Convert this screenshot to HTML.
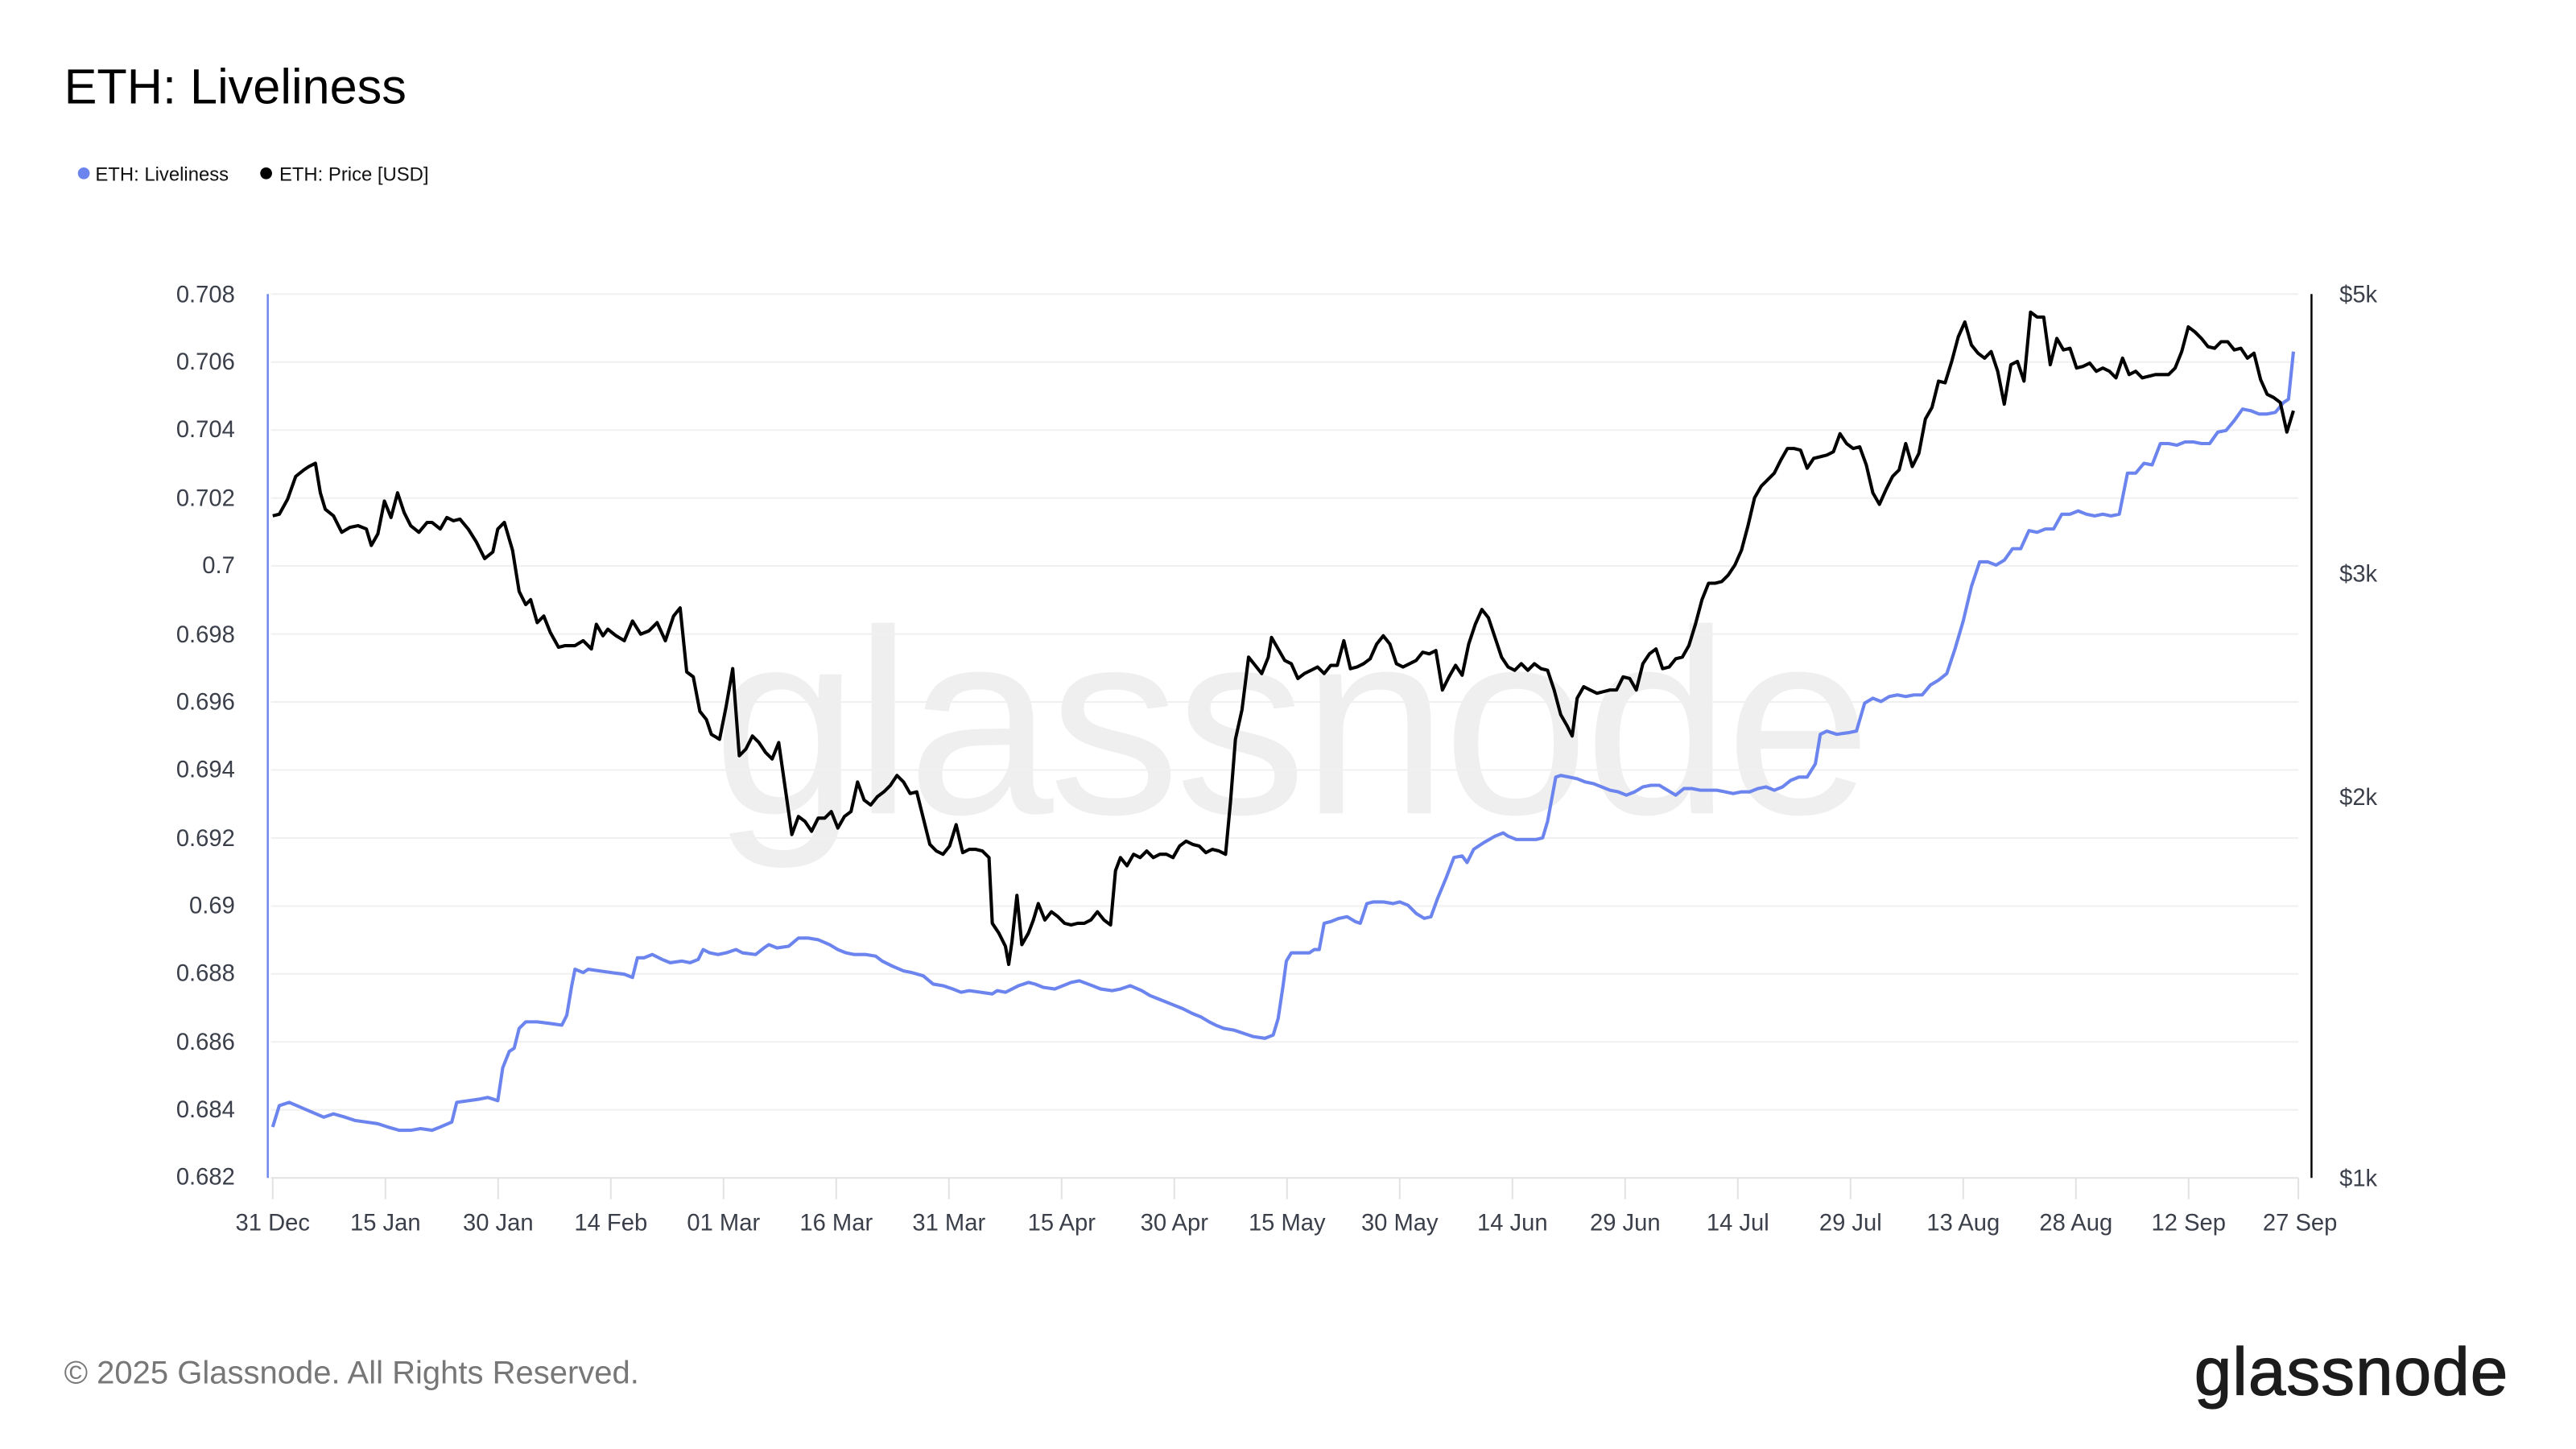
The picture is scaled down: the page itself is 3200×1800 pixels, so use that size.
<!DOCTYPE html>
<html><head><meta charset="utf-8"><style>
html,body{margin:0;padding:0;background:#fff;width:3200px;height:1800px;overflow:hidden}
svg{display:block}
text{font-family:"Liberation Sans",sans-serif}
</style></head><body>
<svg width="3200" height="1800" viewBox="0 0 1568 882" xmlns="http://www.w3.org/2000/svg">
<rect width="1568" height="882" fill="#fff"/>
<text x="39" y="63" font-size="30" fill="#000">ETH: Liveliness</text>
<circle cx="51" cy="105.5" r="3.6" fill="#6b84ee"/>
<text x="58" y="110" font-size="11.7" fill="#111">ETH: Liveliness</text>
<circle cx="162" cy="105.5" r="3.6" fill="#000"/>
<text x="170" y="110" font-size="11.7" fill="#111">ETH: Price [USD]</text>
<text x="785" y="495" font-size="160" fill="#efefef" text-anchor="middle" letter-spacing="-3">glassnode</text>
<g stroke="#f0f0f0" stroke-width="1">
<line x1="165" x2="1399" y1="179" y2="179"/><line x1="165" x2="1399" y1="220.4" y2="220.4"/><line x1="165" x2="1399" y1="261.8" y2="261.8"/><line x1="165" x2="1399" y1="303.2" y2="303.2"/><line x1="165" x2="1399" y1="344.5" y2="344.5"/><line x1="165" x2="1399" y1="385.9" y2="385.9"/><line x1="165" x2="1399" y1="427.3" y2="427.3"/><line x1="165" x2="1399" y1="468.7" y2="468.7"/><line x1="165" x2="1399" y1="510.1" y2="510.1"/><line x1="165" x2="1399" y1="551.5" y2="551.5"/><line x1="165" x2="1399" y1="592.8" y2="592.8"/><line x1="165" x2="1399" y1="634.2" y2="634.2"/><line x1="165" x2="1399" y1="675.6" y2="675.6"/>
</g>
<line x1="165" x2="1399" y1="717" y2="717" stroke="#e2e2e2"/>
<g stroke="#e2e2e2" stroke-width="1">
<line x1="166" x2="166" y1="717" y2="730"/><line x1="234.6" x2="234.6" y1="717" y2="730"/><line x1="303.2" x2="303.2" y1="717" y2="730"/><line x1="371.8" x2="371.8" y1="717" y2="730"/><line x1="440.4" x2="440.4" y1="717" y2="730"/><line x1="509" x2="509" y1="717" y2="730"/><line x1="577.6" x2="577.6" y1="717" y2="730"/><line x1="646.2" x2="646.2" y1="717" y2="730"/><line x1="714.8" x2="714.8" y1="717" y2="730"/><line x1="783.4" x2="783.4" y1="717" y2="730"/><line x1="852" x2="852" y1="717" y2="730"/><line x1="920.6" x2="920.6" y1="717" y2="730"/><line x1="989.2" x2="989.2" y1="717" y2="730"/><line x1="1057.8" x2="1057.8" y1="717" y2="730"/><line x1="1126.4" x2="1126.4" y1="717" y2="730"/><line x1="1195" x2="1195" y1="717" y2="730"/><line x1="1263.6" x2="1263.6" y1="717" y2="730"/><line x1="1332.2" x2="1332.2" y1="717" y2="730"/><line x1="1399" x2="1399" y1="717" y2="730"/>
</g>
<line x1="163" x2="163" y1="179" y2="717" stroke="#6b84ee" stroke-width="1.2"/>
<line x1="1407" x2="1407" y1="179" y2="717" stroke="#000" stroke-width="1.2"/>
<g font-size="14.3" fill="#3a3f4a" text-anchor="end">
<text x="143" y="184">0.708</text><text x="143" y="225">0.706</text><text x="143" y="266">0.704</text><text x="143" y="308">0.702</text><text x="143" y="349">0.7</text><text x="143" y="391">0.698</text><text x="143" y="432">0.696</text><text x="143" y="473">0.694</text><text x="143" y="515">0.692</text><text x="143" y="556">0.69</text><text x="143" y="597">0.688</text><text x="143" y="639">0.686</text><text x="143" y="680">0.684</text><text x="143" y="721">0.682</text>
</g>
<g font-size="14.3" fill="#3a3f4a">
<text x="1424" y="184">$5k</text><text x="1424" y="354">$3k</text><text x="1424" y="490">$2k</text><text x="1424" y="722">$1k</text>
</g>
<g font-size="14.3" fill="#3a3f4a" text-anchor="middle">
<text x="166" y="749">31 Dec</text><text x="234.6" y="749">15 Jan</text><text x="303.2" y="749">30 Jan</text><text x="371.8" y="749">14 Feb</text><text x="440.4" y="749">01 Mar</text><text x="509" y="749">16 Mar</text><text x="577.6" y="749">31 Mar</text><text x="646.2" y="749">15 Apr</text><text x="714.8" y="749">30 Apr</text><text x="783.4" y="749">15 May</text><text x="852" y="749">30 May</text><text x="920.6" y="749">14 Jun</text><text x="989.2" y="749">29 Jun</text><text x="1057.8" y="749">14 Jul</text><text x="1126.4" y="749">29 Jul</text><text x="1195" y="749">13 Aug</text><text x="1263.6" y="749">28 Aug</text><text x="1332.2" y="749">12 Sep</text><text x="1400" y="749">27 Sep</text>
</g>
<polyline fill="none" stroke="#6b84ee" stroke-width="2" stroke-linejoin="round" points="166,686 170,673 176,671 183,674 190,677 197,680 203,678 210,680 216,682 223,683 230,684 236,686 243,688 250,688 256,687 263,688 268,686 275,683 278,671 285,670 292,669 297,668 303,670 306,650 310,640 313,638 316,626 320,622 327,622 335,623 342,624 345,618 348,600 350,590 355,592 358,590 365,591 372,592 380,593 385,595 388,583 392,583 397,581 403,584 408,586 415,585 420,586 425,584 428,578 432,580 437,581 442,580 448,578 452,580 460,581 465,577 468,575 473,577 480,576 486,571 492,571 498,572 505,575 510,578 515,580 520,581 527,581 533,582 537,585 543,588 550,591 555,592 562,594 568,599 574,600 580,602 585,604 590,603 597,604 604,605 607,603 612,604 620,600 626,598 630,599 635,601 642,602 647,600 652,598 657,597 665,600 670,602 677,603 682,602 688,600 695,603 700,606 705,608 710,610 715,612 720,614 726,617 731,619 736,622 740,624 745,626 751,627 757,629 763,631 770,632 775,630 778,620 781,600 783,585 786,580 792,580 797,580 800,578 803,578 806,562 810,561 815,559 820,558 825,561 828,562 832,550 836,549 842,549 848,550 852,549 857,551 862,556 867,559 871,558 875,547 880,535 885,522 890,521 893,525 897,517 903,513 910,509 915,507 918,509 923,511 928,511 935,511 939,510 942,500 947,473 950,472 955,473 960,474 965,476 970,477 975,479 980,481 985,482 990,484 995,482 1000,479 1005,478 1010,478 1015,481 1020,484 1025,480 1030,480 1035,481 1040,481 1045,481 1050,482 1055,483 1060,482 1065,482 1070,480 1075,479 1080,481 1085,479 1090,475 1095,473 1100,473 1105,465 1108,447 1112,445 1118,447 1125,446 1130,445 1135,428 1140,425 1145,427 1150,424 1155,423 1160,424 1165,423 1170,423 1175,417 1180,414 1185,410 1190,395 1195,378 1200,357 1205,342 1210,342 1215,344 1220,341 1225,334 1230,334 1235,323 1240,324 1245,322 1250,322 1255,313 1260,313 1265,311 1270,313 1275,314 1280,313 1285,314 1290,313 1295,288 1300,288 1305,282 1310,283 1315,270 1320,270 1325,271 1330,269 1335,269 1340,270 1345,270 1350,263 1355,262 1360,256 1365,249 1370,250 1375,252 1380,252 1385,251 1390,245 1393,243 1396,214"/>
<polyline fill="none" stroke="#000" stroke-width="2" stroke-linejoin="round" points="166,314 170,313 175,304 180,290 185,286 188,284 192,282 195,300 198,310 203,314 208,324 213,321 218,320 223,322 226,332 230,325 234,305 238,315 242,300 246,312 250,320 255,324 260,318 263,318 268,322 272,315 276,317 280,316 285,322 290,330 295,340 300,336 303,322 307,318 312,335 316,360 320,368 323,365 327,379 331,375 335,385 340,394 344,393 350,393 355,390 360,395 363,380 367,387 370,383 375,387 380,390 385,378 390,386 395,384 400,379 405,390 410,375 414,370 418,409 422,412 426,433 430,438 433,447 438,450 442,430 446,407 450,460 454,456 458,448 462,452 466,458 470,462 474,452 478,480 482,508 486,497 490,500 494,506 498,498 502,498 506,494 510,504 514,497 518,494 522,476 526,487 530,490 534,485 538,482 542,478 546,472 550,476 554,483 558,482 562,498 566,514 570,518 574,520 578,515 582,502 586,519 590,517 594,517 598,518 602,522 604,562 608,568 612,576 614,587 616,573 619,545 622,575 626,568 629,560 632,550 636,560 640,555 644,558 648,562 652,563 656,562 660,562 664,560 668,555 672,560 676,563 679,530 682,522 686,527 690,520 694,522 698,518 702,522 706,520 710,520 714,522 718,515 722,512 726,514 730,515 734,519 738,517 742,518 746,520 749,488 752,450 756,432 760,400 764,405 768,410 772,400 774,388 778,395 782,402 786,404 790,413 794,410 798,408 802,406 806,410 810,405 814,405 818,390 822,407 826,406 830,404 834,401 838,392 842,387 846,392 850,404 854,406 858,404 862,402 866,397 870,398 874,396 878,420 882,412 886,405 890,411 894,392 898,380 902,371 906,376 910,388 914,400 918,406 922,408 926,404 930,408 934,404 938,407 942,408 946,420 950,435 954,442 957,448 960,425 964,418 968,420 972,422 976,421 980,420 984,420 988,412 992,413 996,420 1000,404 1004,398 1008,395 1012,407 1016,406 1020,401 1024,400 1028,393 1032,380 1036,365 1040,355 1044,355 1048,354 1052,350 1056,344 1060,335 1064,320 1068,303 1072,296 1076,292 1080,288 1084,280 1088,273 1092,273 1096,274 1100,285 1104,279 1108,278 1112,277 1116,275 1120,264 1124,270 1128,273 1132,272 1136,283 1140,300 1144,307 1148,298 1152,290 1156,286 1160,270 1164,284 1168,276 1172,255 1176,248 1180,232 1184,233 1188,220 1192,205 1196,196 1200,210 1204,215 1208,218 1212,214 1216,226 1220,246 1224,222 1228,220 1232,232 1236,190 1240,193 1244,193 1248,222 1252,206 1256,213 1260,212 1264,224 1268,223 1272,221 1276,226 1280,224 1284,226 1288,230 1292,218 1296,228 1300,226 1304,230 1308,229 1312,228 1316,228 1320,228 1324,224 1328,214 1332,199 1336,202 1340,206 1344,211 1348,212 1352,208 1356,208 1360,213 1364,212 1368,218 1372,215 1376,231 1380,240 1384,242 1388,245 1392,263 1396,250"/>
<text x="39" y="842" font-size="19.6" fill="#777">© 2025 Glassnode. All Rights Reserved.</text>
<text x="1527" y="849" font-size="41" fill="#1c1c1c" text-anchor="end" stroke="#1c1c1c" stroke-width="0.6" letter-spacing="0.5">glassnode</text>
</svg>
</body></html>
